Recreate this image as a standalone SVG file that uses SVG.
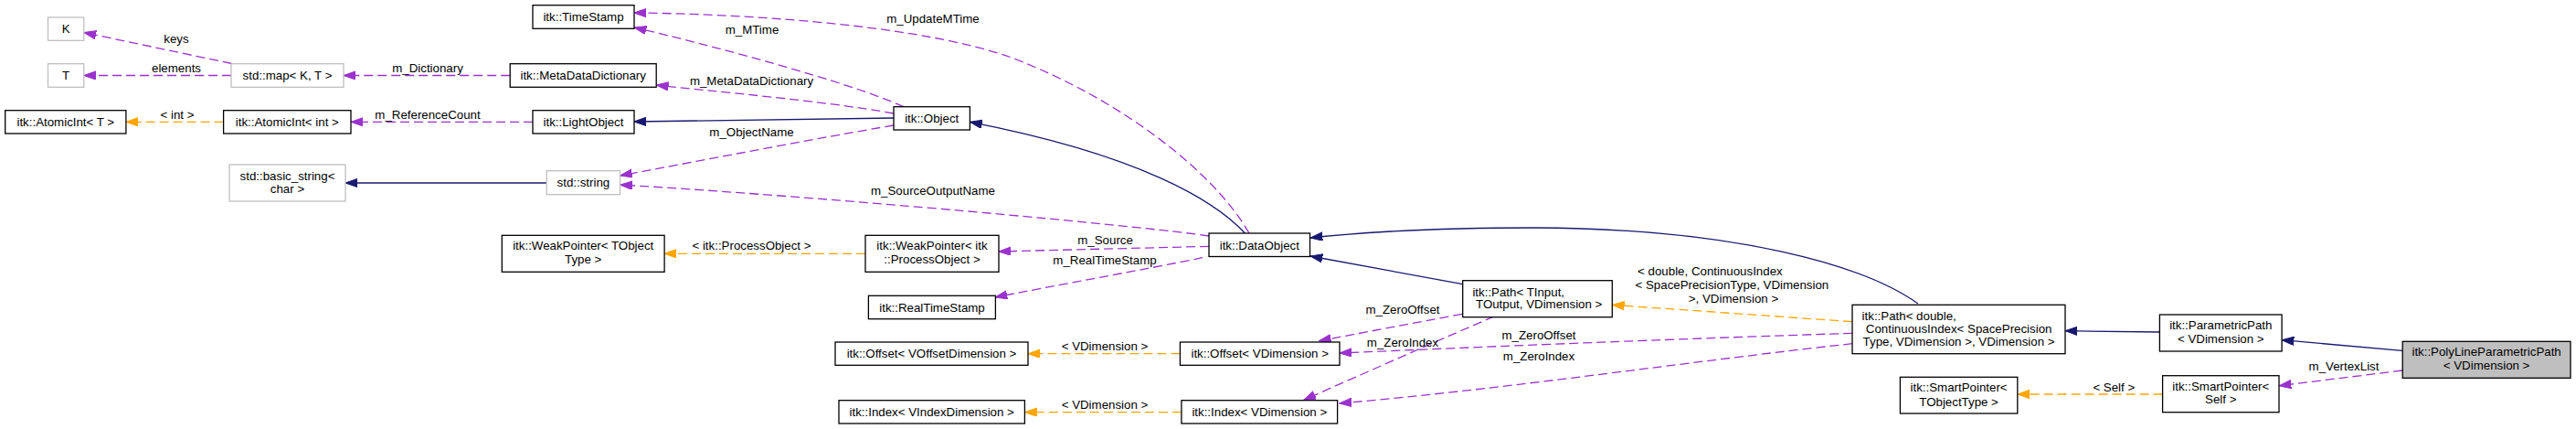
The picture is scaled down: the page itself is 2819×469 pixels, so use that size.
<svg xmlns="http://www.w3.org/2000/svg" width="2819" height="469" viewBox="0 0 2819 469">
<style>
text{font-family:"Liberation Sans",Arial,sans-serif;font-size:13.3px;fill:#000;text-anchor:middle}
.n rect{fill:#fff;stroke:#000;stroke-width:1.3}
.g rect{fill:#fff;stroke:#bfbfbf;stroke-width:1.3}
.l{text-anchor:start}
.e path{fill:none;stroke-width:1.3}
.inh{stroke:#191970}
.mem{stroke:#9a32cd;stroke-dasharray:10,5}
.tpl{stroke:#ffa500;stroke-dasharray:10,5}
.inh{marker-end:url(#aN)}
.mem{marker-end:url(#aP)}
.tpl{marker-end:url(#aO)}
</style>
<defs>
<marker id="aN" markerUnits="userSpaceOnUse" markerWidth="14" markerHeight="10" refX="13.3" refY="4.7" orient="auto"><path d="M0,0 L13.3,4.7 L0,9.4 z" fill="#191970" stroke="#191970"/></marker>
<marker id="aP" markerUnits="userSpaceOnUse" markerWidth="14" markerHeight="10" refX="13.3" refY="4.7" orient="auto"><path d="M0,0 L13.3,4.7 L0,9.4 z" fill="#9a32cd" stroke="#9a32cd"/></marker>
<marker id="aO" markerUnits="userSpaceOnUse" markerWidth="14" markerHeight="10" refX="13.3" refY="4.7" orient="auto"><path d="M0,0 L13.3,4.7 L0,9.4 z" fill="#ffa500" stroke="#ffa500"/></marker>
</defs>
<rect width="2819" height="469" fill="#fff"/>
<g id="edges" class="e">
<path class="mem" d="M253.6,69.5 L91.8,35.5"/>
<path class="mem" d="M253,82.5 L91.8,82.5"/>
<path class="mem" d="M558.2,82.5 L376,82.5"/>
<path class="tpl" d="M244.6,133.3 L137.9,133.3"/>
<path class="mem" d="M583,133.3 L384,133.3"/>
<path class="inh" d="M598.2,200 L378,200"/>
<path class="mem" d="M989,116.7 C930,90 780,50 694,30"/>
<path class="mem" d="M978,124 C900,110 780,100 718.2,93"/>
<path class="inh" d="M978,129 L694,133"/>
<path class="mem" d="M978,137 C900,150 770,175 678.6,192"/>
<path class="mem" d="M1367,255 C1330,190 1230,110 1107,63 C1000,25 800,15 694,14"/>
<path class="inh" d="M1362.5,255 C1330,220 1250,170 1061.4,133.3"/>
<path class="mem" d="M1323,258 C1250,247 900,215 678.6,202"/>
<path class="mem" d="M1323,269.3 L1093,275"/>
<path class="mem" d="M1316,281.7 C1250,295 1150,313 1089,325"/>
<path class="tpl" d="M947,277.3 L727,277.3"/>
<path class="inh" d="M1600.7,310.7 L1434,280"/>
<path class="inh" d="M2099,332 C2040,290 1900,250 1680,249 C1560,249 1480,255 1434,260"/>
<path class="tpl" d="M2027,351.7 L1764.3,333.3"/>
<path class="mem" d="M2027,364.3 C1850,370 1650,378 1466,386"/>
<path class="mem" d="M2027,375.7 C1850,395 1650,425 1465.7,441"/>
<path class="mem" d="M1600,343.3 L1443.3,372.7"/>
<path class="mem" d="M1635,346 C1590,365 1500,405 1426.7,437.3"/>
<path class="tpl" d="M1291.4,386.7 L1125,386.7"/>
<path class="tpl" d="M1292.9,450.7 L1121.4,450.7"/>
<path class="inh" d="M2363.4,363 L2260,361.7"/>
<path class="inh" d="M2629,383.3 L2497,371.7"/>
<path class="mem" d="M2629,405 L2494,421.7"/>
<path class="tpl" d="M2366.6,431 L2207.8,431"/>
<text x="193" y="47.4">keys</text>
<text x="193" y="78.7">elements</text>
<text x="468" y="79.4">m_Dictionary</text>
<text x="194" y="129.7">&lt; int &gt;</text>
<text x="468" y="129.7">m_ReferenceCount</text>
<text x="823" y="37.4">m_MTime</text>
<text x="1021" y="24.7">m_UpdateMTime</text>
<text x="822.5" y="93.4">m_MetaDataDictionary</text>
<text x="822.5" y="149.4">m_ObjectName</text>
<text x="1021" y="213.4">m_SourceOutputName</text>
<text x="1209.6" y="267.4">m_Source</text>
<text x="1209" y="289">m_RealTimeStamp</text>
<text x="822.5" y="273.4">&lt; itk::ProcessObject &gt;</text>
<text x="1871.4" y="301.4">&lt; double, ContinuousIndex</text>
<text x="1895.4" y="316.4">&lt; SpacePrecisionType, VDimension</text>
<text x="1897" y="331.4">&gt;, VDimension &gt;</text>
<text x="1684" y="370.7">m_ZeroOffset</text>
<text x="1684" y="394">m_ZeroIndex</text>
<text x="1535" y="343.4">m_ZeroOffset</text>
<text x="1535" y="379">m_ZeroIndex</text>
<text x="1209" y="383">&lt; VDimension &gt;</text>
<text x="1209" y="447">&lt; VDimension &gt;</text>
<text x="2565" y="404.7">m_VertexList</text>
<text x="2313.3" y="428">&lt; Self &gt;</text>
</g>
<g id="K" class="g"><rect x="52.5" y="19" width="39.3" height="25.3"/><text x="72.1" y="36.4">K</text></g>
<g id="T" class="g"><rect x="52.5" y="69.7" width="39.3" height="25.6"/><text x="72.1" y="87.2">T</text></g>
<g id="stdmap" class="g"><rect x="253" y="69.7" width="123" height="25.6"/><text x="314.5" y="87.2">std::map&lt; K, T &gt;</text></g>
<g id="AtomicIntT" class="n"><rect x="5.7" y="120.7" width="132.2" height="25.3"/><text x="71.8" y="138">itk::AtomicInt&lt; T &gt;</text></g>
<g id="AtomicIntInt" class="n"><rect x="244.6" y="120.7" width="139.4" height="25.3"/><text x="314.3" y="138">itk::AtomicInt&lt; int &gt;</text></g>
<g id="basicstring" class="g"><rect x="251" y="180" width="127" height="40"/><text x="314.5" y="197.4">std::basic_string&lt;</text><text x="314.5" y="211.4">char &gt;</text></g>
<g id="TimeStamp" class="n"><rect x="583" y="5.7" width="111" height="25.6"/><text x="638.5" y="23.2">itk::TimeStamp</text></g>
<g id="MetaDataDictionary" class="n"><rect x="558.2" y="69.7" width="160" height="25.6"/><text x="638.2" y="87.2">itk::MetaDataDictionary</text></g>
<g id="LightObject" class="n"><rect x="583" y="120.7" width="111" height="25.3"/><text x="638.5" y="138">itk::LightObject</text></g>
<g id="stdstring" class="g"><rect x="598.2" y="186.7" width="80.4" height="26"/><text x="638.4" y="204.4">std::string</text></g>
<g id="Object" class="n"><rect x="978" y="116.7" width="83.4" height="25.3"/><text x="1019.7" y="134">itk::Object</text></g>
<g id="DataObject" class="n"><rect x="1323" y="255" width="110.5" height="25.5"/><text x="1378.3" y="272.5">itk::DataObject</text></g>
<g id="WeakPointerTObjectType" class="n"><rect x="549.3" y="257.3" width="177.8" height="40"/><text x="638.2" y="273.4">itk::WeakPointer&lt; TObject</text><text x="638.2" y="288.4">Type &gt;</text></g>
<g id="WeakPointerProcessObject" class="n"><rect x="947" y="257.3" width="146" height="40"/><text x="1020" y="273.4">itk::WeakPointer&lt; itk</text><text x="1020" y="288.4">::ProcessObject &gt;</text></g>
<g id="RealTimeStamp" class="n"><rect x="950.4" y="323.3" width="139" height="25.4"/><text x="1020" y="340.7">itk::RealTimeStamp</text></g>
<g id="OffsetVOffsetDimension" class="n"><rect x="914" y="374" width="211" height="25.3"/><text x="1019.5" y="391.4">itk::Offset&lt; VOffsetDimension &gt;</text></g>
<g id="IndexVIndexDimension" class="n"><rect x="918" y="437.7" width="203.4" height="25.3"/><text x="1019.7" y="455">itk::Index&lt; VIndexDimension &gt;</text></g>
<g id="OffsetVDimension" class="n"><rect x="1291.4" y="374" width="174.6" height="25.3"/><text x="1378.7" y="391.4">itk::Offset&lt; VDimension &gt;</text></g>
<g id="IndexVDimension" class="n"><rect x="1292.9" y="437.7" width="170.7" height="25.3"/><text x="1378.3" y="455">itk::Index&lt; VDimension &gt;</text></g>
<g id="PathTInput" class="n"><rect x="1600.7" y="306.7" width="163.6" height="40"/><text class="l" x="1611.4" y="323.7">itk::Path&lt; TInput,</text><text class="l" x="1615" y="337">TOutput, VDimension &gt;</text></g>
<g id="PathDouble" class="n"><rect x="2027" y="333.3" width="233" height="53.4"/><text class="l" x="2037.6" y="349.7">itk::Path&lt; double,</text><text class="l" x="2041.8" y="363.7">ContinuousIndex&lt; SpacePrecision</text><text class="l" x="2038.6" y="378.4">Type, VDimension &gt;, VDimension &gt;</text></g>
<g id="ParametricPath" class="n"><rect x="2363.4" y="344" width="133.7" height="40"/><text x="2430.3" y="360.4">itk::ParametricPath</text><text x="2430.3" y="375.4">&lt; VDimension &gt;</text></g>
<g id="PolyLineParametricPath" class="n"><rect x="2629.2" y="373.3" width="183.8" height="40" style="fill:#bfbfbf"/><text x="2721.1" y="389.4">itk::PolyLineParametricPath</text><text x="2721.1" y="404.4">&lt; VDimension &gt;</text></g>
<g id="SmartPointerSelf" class="n"><rect x="2366.6" y="410.7" width="127.4" height="40"/><text x="2430.3" y="427.4">itk::SmartPointer&lt;</text><text x="2430.3" y="441.4">Self &gt;</text></g>
<g id="SmartPointerTObjectType" class="n"><rect x="2079.4" y="412.3" width="128.4" height="39.7"/><text x="2143.6" y="428">itk::SmartPointer&lt;</text><text x="2143.6" y="443.7">TObjectType &gt;</text></g>
</svg>
